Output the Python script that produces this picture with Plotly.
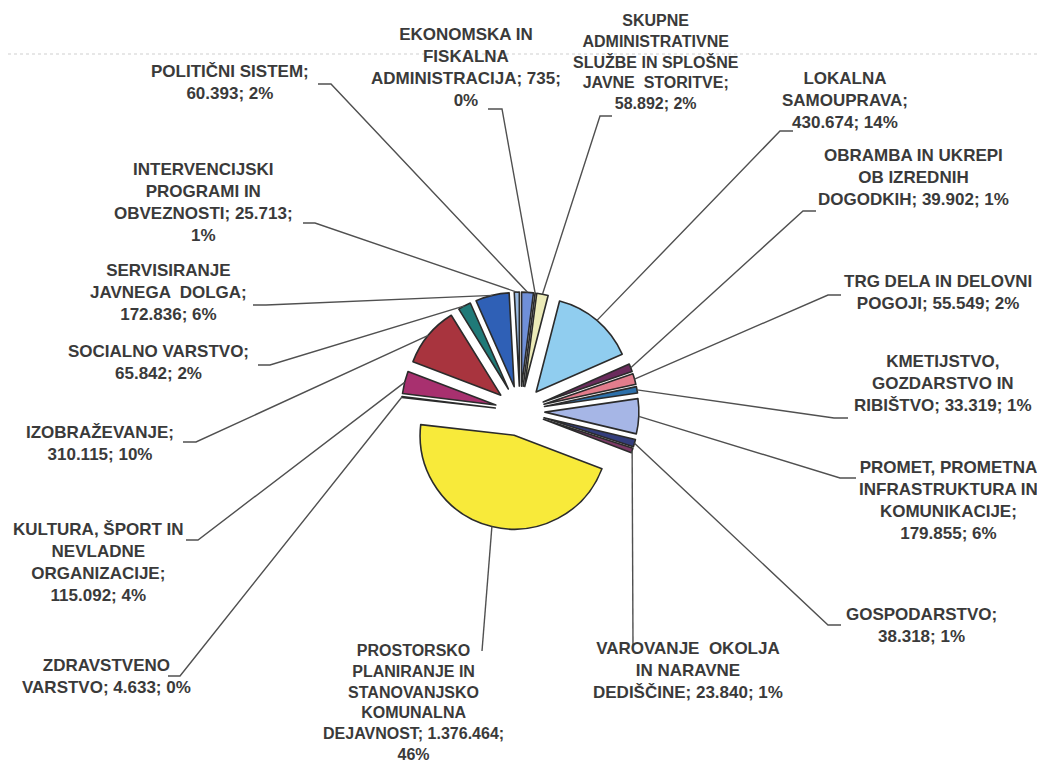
import math
import plotly.graph_objects as go

W, H = 1045, 761

categories = [
    "POLITIČNI SISTEM",
    "EKONOMSKA IN FISKALNA ADMINISTRACIJA",
    "SKUPNE ADMINISTRATIVNE SLUŽBE IN SPLOŠNE JAVNE STORITVE",
    "LOKALNA SAMOUPRAVA",
    "OBRAMBA IN UKREPI OB IZREDNIH DOGODKIH",
    "TRG DELA IN DELOVNI POGOJI",
    "KMETIJSTVO, GOZDARSTVO IN RIBIŠTVO",
    "PROMET, PROMETNA INFRASTRUKTURA IN KOMUNIKACIJE",
    "GOSPODARSTVO",
    "VAROVANJE OKOLJA IN NARAVNE DEDIŠČINE",
    "PROSTORSKO PLANIRANJE IN STANOVANJSKO KOMUNALNA DEJAVNOST",
    "ZDRAVSTVENO VARSTVO",
    "KULTURA, ŠPORT IN NEVLADNE ORGANIZACIJE",
    "IZOBRAŽEVANJE",
    "SOCIALNO VARSTVO",
    "SERVISIRANJE JAVNEGA DOLGA",
    "INTERVENCIJSKI PROGRAMI IN OBVEZNOSTI",
]
values = [60393, 735, 58892, 430674, 39902, 55549, 33319, 179855, 38318,
          23840, 1376464, 4633, 115092, 310115, 65842, 172836, 25713]

# names as they are wrapped on the chart
label_names = [
    "POLITIČNI SISTEM;",
    "EKONOMSKA IN<br>FISKALNA<br>ADMINISTRACIJA;",
    "SKUPNE<br>ADMINISTRATIVNE<br>SLUŽBE IN SPLOŠNE<br>JAVNE  STORITVE;",
    "LOKALNA<br>SAMOUPRAVA;",
    "OBRAMBA IN UKREPI<br>OB IZREDNIH<br>DOGODKIH;",
    "TRG DELA IN DELOVNI<br>POGOJI;",
    "KMETIJSTVO,<br>GOZDARSTVO IN<br>RIBIŠTVO;",
    "PROMET, PROMETNA<br>INFRASTRUKTURA IN<br>KOMUNIKACIJE;",
    "GOSPODARSTVO;",
    "VAROVANJE  OKOLJA<br>IN NARAVNE<br>DEDIŠČINE;",
    "PROSTORSKO<br>PLANIRANJE IN<br>STANOVANJSKO<br>KOMUNALNA<br>DEJAVNOST;",
    "ZDRAVSTVENO<br>VARSTVO;",
    "KULTURA, ŠPORT IN<br>NEVLADNE<br>ORGANIZACIJE;",
    "IZOBRAŽEVANJE;",
    "SOCIALNO VARSTVO;",
    "SERVISIRANJE<br>JAVNEGA  DOLGA;",
    "INTERVENCIJSKI<br>PROGRAMI IN<br>OBVEZNOSTI;",
]
# separators: after name, after value (line break or space)
label_seps = [
    ("<br>", " "), (" ", "<br>"), ("<br>", " "), ("<br>", " "), (" ", " "),
    (" ", " "), (" ", " "), ("<br>", " "), ("<br>", " "), (" ", " "),
    (" ", "<br>"), (" ", " "), ("<br>", " "), ("<br>", " "), ("<br>", " "),
    ("<br>", " "), (" ", "<br>"),
]

colors = ["#6f8fd8", "#8a3a6a", "#ecebb8", "#90cdef", "#6a2b5c", "#e27d8c",
          "#2d70aa", "#a6b6e6", "#333d7c", "#7c3a66", "#f8ea3a", "#3fc0d2",
          "#a8306f", "#a8343e", "#207a78", "#2f60b6", "#9bbbe2"]

# layout of the exploded pie (pixels)
PIE_CX, PIE_CY, PIE_R, PULL = 512, 403, 94, 0.265

# label block centres, font sizes and leader ticks (x at line side, x at text side, y)
label_pos = [(222, 74), (458, 59), (648, 54), (837, 93), (905, 169),
             (930, 285), (935, 375), (940, 492), (913, 617), (680, 662),
             (405, 694), (98, 668), (90, 554), (92, 435), (150, 355),
             (160, 285), (195, 194)]
label_size = [17, 17, 16, 17, 17, 17, 17, 17, 17, 17, 16, 17, 17, 17, 17, 17, 17]
ticks = [(323, 310, 76), (494, 480, 101), (592, 604, 108), (772, 785, 123),
         (795, 808, 203), (820, 833, 287), (826, 840, 410), (832, 848, 470),
         (820, 833, 617), (625, 625, 638), (474, 474, 643), (172, 160, 668),
         (190, 178, 532), (188, 175, 434), (262, 250, 357), (258, 245, 297),
         (307, 295, 215)]


def px(x):
    return x / W


def py(y):
    return 1 - y / H


def fmt(v):
    return f"{v:,}".replace(",", ".")


total = sum(values)
R_OUT = PIE_R * (1 + PULL)

fig = go.Figure()
fig.add_trace(
    go.Pie(
        labels=categories,
        values=values,
        sort=False,
        direction="clockwise",
        rotation=0,
        pull=[PULL] * len(values),
        textinfo="none",
        marker=dict(colors=colors, line=dict(color="#2b2b2b", width=1.6)),
        domain=dict(
            x=[px(PIE_CX - R_OUT), px(PIE_CX + R_OUT)],
            y=[py(PIE_CY + R_OUT), py(PIE_CY - R_OUT)],
        ),
        showlegend=False,
        hovertemplate="%{label}<br>%{value:,}<br>%{percent}<extra></extra>",
    )
)

# faint scanner streak across the top of the page
shapes = [dict(type="line", xref="paper", yref="paper", x0=0, x1=1,
               y0=py(46), y1=py(46), layer="below",
               line=dict(color="#cfcfcf", width=1, dash="dot"))]
annotations = []
cum = 0
for i, v in enumerate(values):
    mid = math.radians((cum + v / 2) / total * 360)
    cum += v
    sx = PIE_CX + R_OUT * math.sin(mid)
    sy = PIE_CY - R_OUT * math.cos(mid)
    x_out, x_in, ty = ticks[i]
    path = f"M {px(sx)},{py(sy)} L {px(x_out)},{py(ty)} L {px(x_in)},{py(ty)}"
    shapes.append(dict(type="path", path=path, xref="paper", yref="paper",
                       line=dict(color="#505050", width=1.4)))

    pct = round(v / total * 100)
    s1, s2 = label_seps[i]
    text = f"{label_names[i]}{s1}{fmt(v)};{s2}{pct}%"
    cx, cy = label_pos[i]
    annotations.append(dict(
        x=px(cx), y=py(cy), xref="paper", yref="paper", text=text,
        showarrow=False, xanchor="center", yanchor="middle", align="center",
        font=dict(family="Arial, Liberation Sans, sans-serif",
                  size=label_size[i], color="#3a3a3a", weight="bold"),
    ))

fig.update_layout(
    width=W,
    height=H,
    margin=dict(l=0, r=0, t=0, b=0),
    paper_bgcolor="white",
    plot_bgcolor="white",
    shapes=shapes,
    annotations=annotations,
)

fig.write_html("out.html")
